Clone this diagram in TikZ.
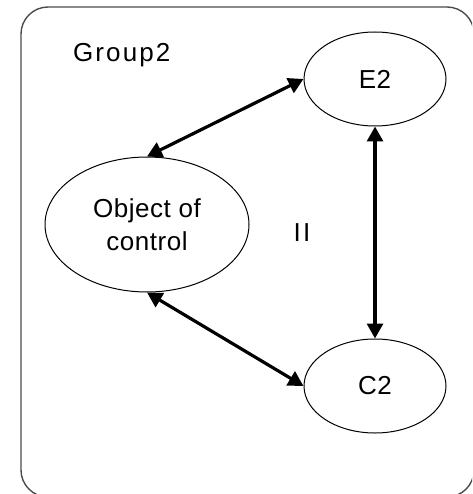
\documentclass[tikz,border=0pt]{standalone}
\usepackage{fontspec}
\setmainfont{Liberation Sans}[LetterSpace=8]
\newfontfamily\tightfont{Liberation Sans}[LetterSpace=2]
\usetikzlibrary{arrows.meta,shapes.geometric}
\tikzset{
  blob/.style={ellipse, draw=black, line width=1pt, inner sep=0pt,
    font=\tightfont\fontsize{26}{33}\selectfont, align=center},
  link/.style={line width=3.2pt, {Triangle[length=15pt,width=16pt]}-{Triangle[length=15pt,width=16pt]}},
  lbl/.style={font=\fontsize{26}{33}\selectfont, inner sep=0pt}
}
\begin{document}
\begin{tikzpicture}[x=1pt,y=-1pt]
\useasboundingbox (0,0) rectangle (472,494);
\clip (0,0) rectangle (472,494);
\draw[line width=1.4pt, black!70, rounded corners=27pt] (21,7) rectangle (474,497);
\node[lbl, anchor=base west] (g) at (73,62) {Group2};
\node[blob, minimum width=204pt, minimum height=135pt] (obj) at (147,224.5) {Object of\\control};
\node[blob, minimum width=142pt, minimum height=94pt] (e2) at (375,79) {E2};
\node[blob, minimum width=142pt, minimum height=94pt] (c2) at (375,386) {C2};
\node[lbl, anchor=base] (ii) at (302,241) {II};
\draw[link] (obj.north) -- (e2.west);
\draw[link] (obj.south) -- (c2.west);
\draw[link] (e2.south) -- (c2.north);
\end{tikzpicture}
\end{document}
